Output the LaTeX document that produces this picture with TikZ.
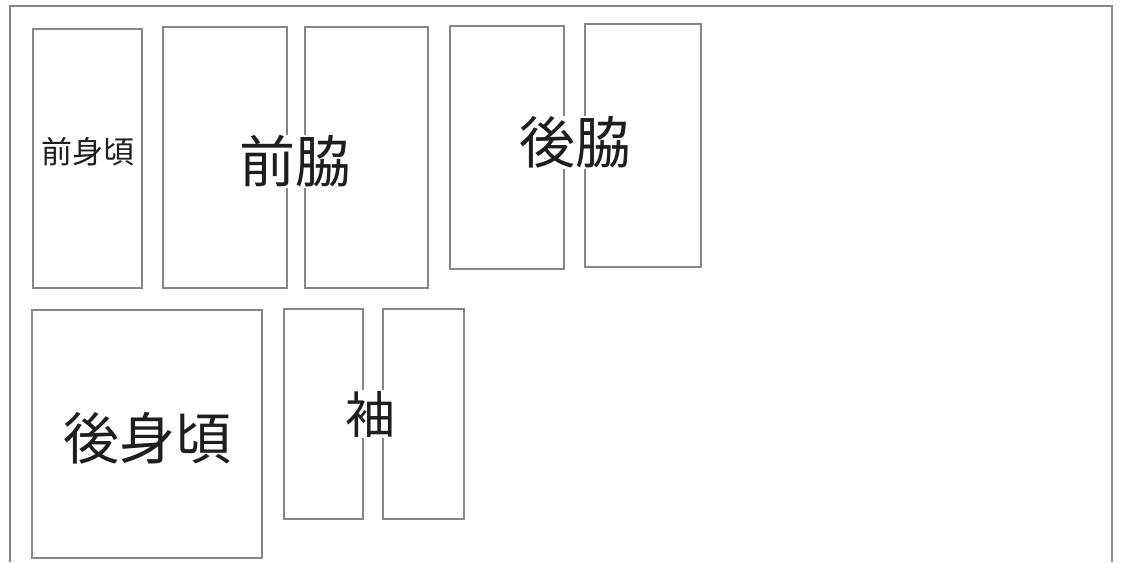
\documentclass[tikz,border=0pt]{standalone}
\usepackage{fontspec}
\newfontfamily\jpfont{Noto Sans CJK JP}
\usetikzlibrary{positioning}

\definecolor{linegray}{RGB}{135, 135, 135}
\definecolor{inkgray}{RGB}{30, 30, 30}
\tikzstyle{piece}=[draw=linegray, line width=1.6pt, inner sep=0pt, minimum width=#1]
\tikzstyle{label}=[fill=white, inner sep=1pt, text=inkgray, font=\jpfont\fontsize{#1}{#1}\selectfont]

\begin{document}
\begin{tikzpicture}[x=1pt, y=-1pt]
	\useasboundingbox (0,0) rectangle (1123,562);
	% sheet of cloth, its lower edge runs off the picture
	\draw[linegray, line width=2pt] (10,562) -- (10,6) -- (1112,6) -- (1112,562);

	% upper row
	\node[piece=109pt, minimum height=259pt] (front) at (87.5,158.5) {};
	\node[piece=124pt, minimum height=261pt] (fsideL) at (225,157.5) {};
	\node[piece=123pt, minimum height=261pt] (fsideR) at (366.5,157.5) {};
	\node[piece=114pt, minimum height=243pt] (bsideL) at (507,147.5) {};
	\node[piece=116pt, minimum height=243pt] (bsideR) at (643,145.5) {};

	% lower row
	\node[piece=230pt, minimum height=248pt] (back) at (147,434) {};
	\node[piece=79pt, minimum height=210pt] (sleeveL) at (323.5,414) {};
	\node[piece=81pt, minimum height=210pt] (sleeveR) at (423.5,414) {};

	\node[label=31] at ([yshift=7pt]front.center) {前身頃};
	\node[label=56, yshift=-4pt] at (barycentric cs:fsideL=1/2,fsideR=1/2) {前脇};
	\node[label=56, yshift=4pt] at (barycentric cs:bsideL=1/2,bsideR=1/2) {後脇};
	\node[label=56, yshift=-4pt] at (back.center) {後身頃};
	\node[label=50, xshift=-3pt] at (barycentric cs:sleeveL=1/2,sleeveR=1/2) {袖};
\end{tikzpicture}
\end{document}
